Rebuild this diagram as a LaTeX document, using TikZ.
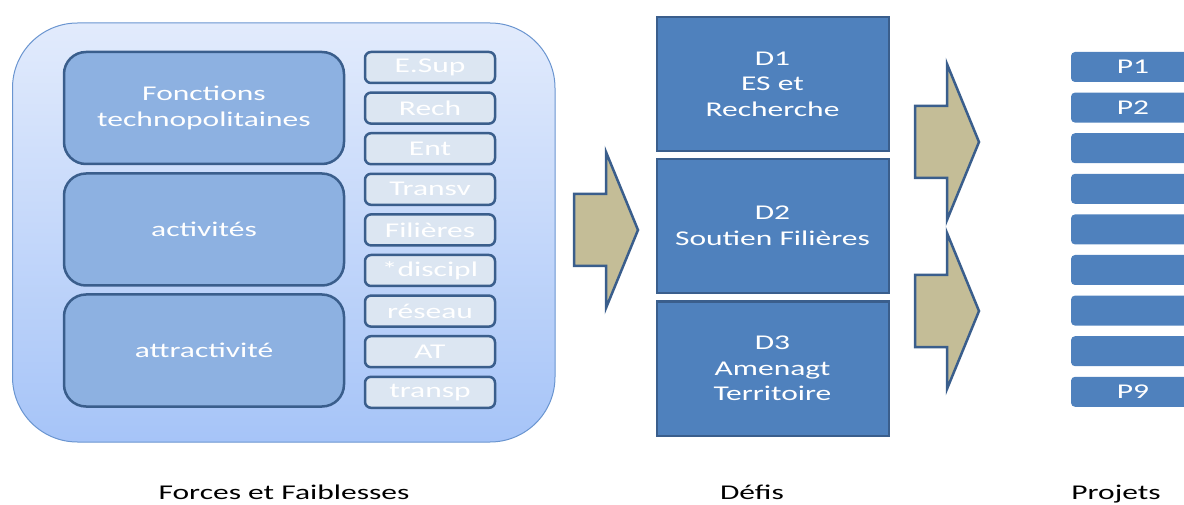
\documentclass[tikz,border=0pt]{standalone}
\usepackage{fontspec}
\setmainfont{Carlito}[FakeStretch=1.5]
\definecolor{fondhaut}{HTML}{E2EBFC}
\definecolor{fondbas}{HTML}{A6C4F8}
\definecolor{bordclair}{HTML}{6A95D0}
\definecolor{bordfonce}{HTML}{3A5E8C}
\definecolor{bleumoyen}{HTML}{8DB1E1}
\definecolor{bleupale}{HTML}{DCE6F2}
\definecolor{bleudefi}{HTML}{4F81BD}
\definecolor{sable}{HTML}{C4BD97}
\tikzset{
	bigbox/.style={draw=bordfonce, fill=bleumoyen, line width=2.5pt, rounded corners=22pt,
		minimum width=280pt, minimum height=112pt, text=white, align=center},
	tagbox/.style={draw=bordfonce, fill=bleupale, line width=2.5pt, rounded corners=6pt,
		minimum width=130pt, minimum height=31pt, text=white},
	defibox/.style={draw=bordfonce, fill=bleudefi, line width=2pt,
		minimum width=232pt, minimum height=134pt, text=white, align=center},
	projbox/.style={fill=bleudefi, rounded corners=4pt,
		minimum width=124pt, minimum height=30pt, text=white},
	fleche/.style={draw=bordfonce, fill=sable, line width=2.5pt, line join=miter},
	legende/.style={anchor=base, text=black}
}
\begin{document}
\begin{tikzpicture}[x=1pt, y=-1pt, font=\fontsize{21}{25.5}\selectfont]
	\clip (0,0) rectangle (1184,505);
	%forces et faiblesses
	\draw[bordclair, line width=1pt, rounded corners=65pt, top color=fondhaut, bottom color=fondbas]
	(12.5,23) rectangle (555,442);
	\node[bigbox] (fonct) at (204,108) {Fonctions\\technopolitaines};
	\node[bigbox] (activ) at (204,229.5) {activités};
	\node[bigbox] (attract) at (204,350.5) {attractivité};
	\foreach \t [count=\i] in {E.Sup,Rech,Ent,Transv,Filières,*discipl,réseau,AT,transp}
	\node[tagbox] (tag\i) at (430,{67.5+40.6*(\i-1)}) {\t};
	%fleches
	\foreach \tx/\ty in {638/230, 979/142, 979/311}
	\draw[fleche] (\tx-64,\ty-36) -- (\tx-32,\ty-36) -- (\tx-32,\ty-78)
	-- (\tx,\ty) -- (\tx-32,\ty+78) -- (\tx-32,\ty+36) -- (\tx-64,\ty+36) -- cycle;
	%defis
	\node[defibox] (d1) at (772.5,84) {D1\\ES et\\Recherche};
	\node[defibox] (d2) at (772.5,226) {D2\\Soutien Filières};
	\node[defibox] (d3) at (772.5,368.5) {D3\\Amenagt\\Territoire};
	%projets
	\foreach \t [count=\i] in {P1,P2,,,,,,,P9}
	\node[projbox] (p\i) at (1133,{67+40.6*(\i-1)}) {\t};
	%labels
	\node[legende] (lforces) at (284,499) {Forces et Faiblesses};
	\node[legende] (ldefis) at (752,499) {Défis};
	\node[legende] (lprojets) at (1116,499) {Projets};
\end{tikzpicture}
\end{document}
